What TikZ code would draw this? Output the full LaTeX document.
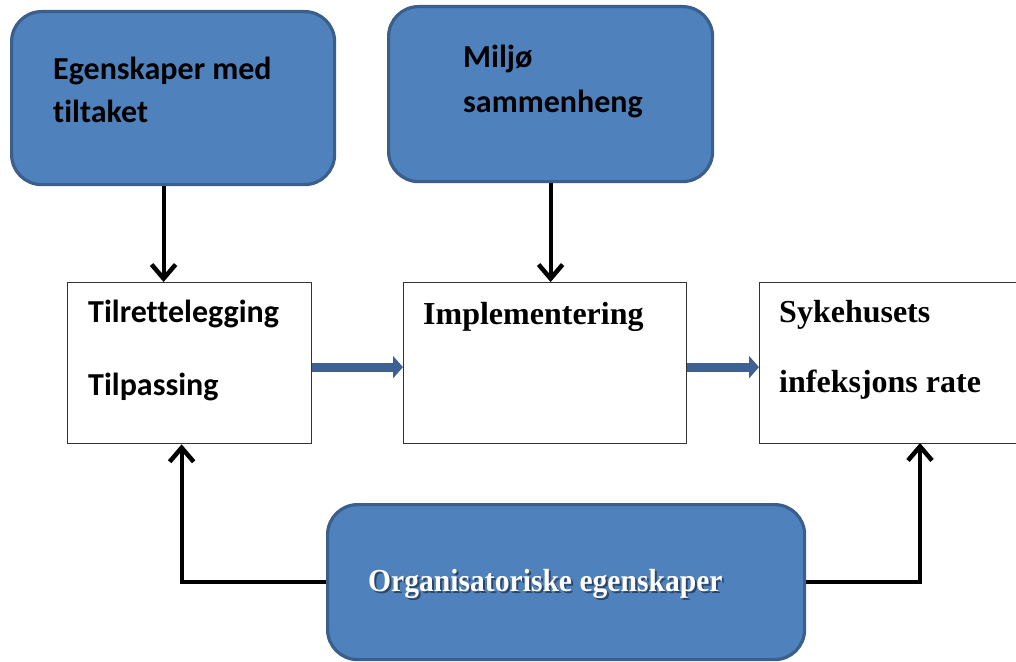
\documentclass[tikz,border=0pt]{standalone}
\usepackage{fontspec}
\setmainfont{Liberation Serif}
\newfontfamily\calib[RawFeature={-liga;-clig;-dlig}]{Carlito}
\usetikzlibrary{arrows.meta}
\definecolor{boxfill}{HTML}{4F81BD}
\definecolor{boxedge}{HTML}{3A5F8C}
\definecolor{flowblue}{HTML}{3C6192}
\newcommand{\narrowtext}[1]{\scalebox{0.925}[1]{#1}}
\begin{document}
\begin{tikzpicture}[x=1pt,y=-1pt,
  bluebox/.style={draw=boxedge, fill=boxfill, line width=3.2pt, rounded corners=30pt,
    anchor=north west, inner sep=0pt},
  whitebox/.style={draw=black!80, fill=white, line width=1.3pt, anchor=north west, inner sep=0pt},
  sanslabel/.style={anchor=base west, inner sep=0pt, font=\calib\bfseries\fontsize{32}{38}\selectfont},
  seriflabel/.style={anchor=base west, inner sep=0pt, font=\bfseries\fontsize{32}{38}\selectfont},
  orglabel/.style={anchor=base west, inner sep=0pt, font=\bfseries\fontsize{32}{38}\selectfont},
  blk/.style={line width=4pt, draw=black, -{Straight Barb[length=14pt,width=24pt,line width=4.5pt]}},
  flow/.style={line width=9pt, draw=flowblue, -{Triangle[length=10pt,width=22pt]}}]
\useasboundingbox (0,0) rectangle (1016,661);

% influencing factors (blue rounded boxes)
\node[bluebox, minimum width=323pt, minimum height=173pt] (feat) at (10,10) {};
\node[bluebox, minimum width=324pt, minimum height=175pt] (env) at (387,5) {};
\node[bluebox, minimum width=477pt, minimum height=155pt] (org) at (326,503) {};

% process chain (white boxes)
\node[whitebox, minimum width=244pt, minimum height=161pt] (tr) at (67,282) {};
\node[whitebox, minimum width=283pt, minimum height=161pt] (impl) at (403,282) {};
\node[whitebox, minimum width=280pt, minimum height=161pt] (rate) at (759,282) {};

% labels
\node[sanslabel] (featA) at (53,79) {Egenskaper med};
\node[sanslabel] (featB) at (53,122) {tiltaket};
\node[sanslabel] (envA) at (463,67) {Miljø};
\node[sanslabel] (envB) at (463,112) {sammenheng};
\node[sanslabel] (trA) at (88,322) {Tilrettelegging};
\node[sanslabel] (trB) at (88,395) {Tilpassing};
\node[seriflabel] (implA) at (423,324) {Implementering};
\node[seriflabel] (rateA) at (779,322) {Sykehusets};
\node[seriflabel] (rateB) at (779,392) {infeksjons rate};
\node[orglabel, text=black, opacity=0.45] (orgS) at (370,593) {\narrowtext{Organisatoriske egenskaper}};
\node[orglabel, text=white] (orgA) at (368,591) {\narrowtext{Organisatoriske egenskaper}};

% connectors
\draw[blk] ([xshift=-9.5pt]feat.south) -- ([xshift=-9.5pt]feat.south |- tr.north);
\draw[blk] (env.south) -- (env.south |- impl.north);
\draw[flow] ([yshift=-4pt]tr.east) -- ([yshift=-4pt]impl.west);
\draw[flow] ([yshift=-4pt]impl.east) -- ([yshift=-4pt]rate.west);
\coordinate (rfoot) at (920,443);
\draw[blk] (org.west) -| ([xshift=-8pt]tr.south);
\draw[blk] (org.east) -| (rfoot);
\end{tikzpicture}
\end{document}
